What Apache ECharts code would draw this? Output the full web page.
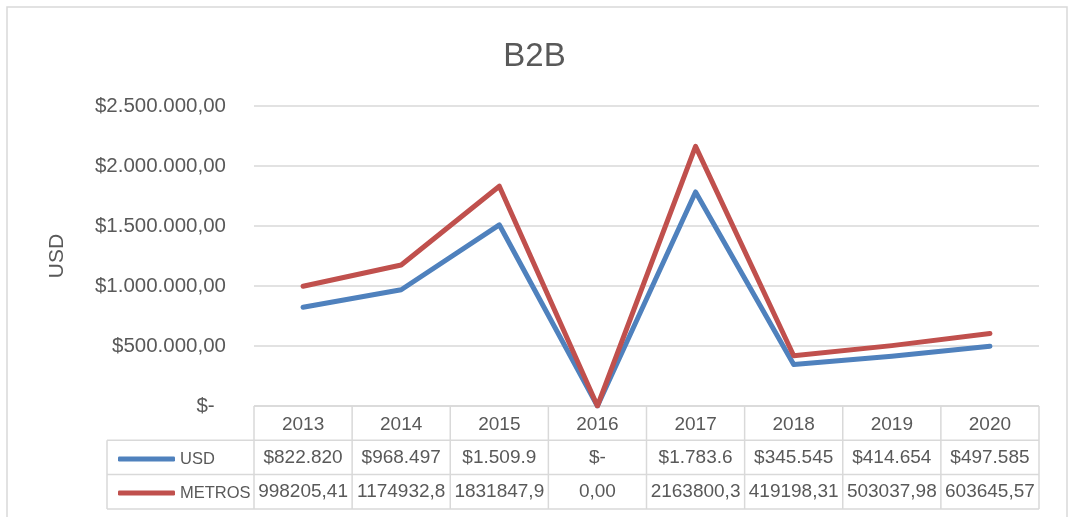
<!DOCTYPE html>
<html>
<head>
<meta charset="utf-8">
<script src="https://cdn.jsdelivr.net/npm/echarts@6/dist/echarts.min.js"></script>
<style>
  html, body { margin: 0; padding: 0; background: #fff; }
  #main { width: 1069px; height: 517px; }
</style>
</head>
<body>
<div id="main"></div>
<script>
// data
const years = ['2013', '2014', '2015', '2016', '2017', '2018', '2019', '2020'];
const usd = [822820, 968497, 1509900, 0, 1783600, 345545, 414654, 497585];
const metros = [998205.41, 1174932.8, 1831847.9, 0, 2163800.3, 419198.31, 503037.98, 603645.57];
// text as it shows in the data table cells (Excel cuts long numbers)
const usdCells = ['$822.820', '$968.497', '$1.509.9', '$-', '$1.783.6', '$345.545', '$414.654', '$497.585'];
const metrosCells = ['998205,41', '1174932,8', '1831847,9', '0,00', '2163800,3', '419198,31', '503037,98', '603645,57'];
const yTicks = [0, 500000, 1000000, 1500000, 2000000, 2500000];

const textColor = '#595959';
const lineGrey = '#D9D9D9';
const font = "'Liberation Sans', Arial, sans-serif";

function money(v) {
  if (v === 0) return '$-  ';
  return '$' + String(v).replace(/\B(?=(\d{3})+(?!\d))/g, '.') + ',00';
}

// one extra x axis per table row, the label is the cell text
function rowAxis(cells, margin) {
  return {
    type: 'category',
    data: years,
    position: 'bottom',
    axisLine: { show: false },
    axisTick: { show: false },
    axisLabel: {
      interval: 0,
      margin: margin,
      verticalAlign: 'middle',
      color: textColor,
      fontFamily: font,
      fontSize: 19,
      formatter: (v, i) => cells[i]
    }
  };
}

let chart = echarts.init(document.getElementById('main'));

let option = {
  animation: false,
  title: {
    text: 'B2B',
    left: 'center',
    top: 35,
    textStyle: { color: textColor, fontFamily: font, fontSize: 33, fontWeight: 'normal' }
  },
  legend: {
    data: ['USD', 'METROS'],
    orient: 'vertical',
    left: 113,
    top: 444,
    itemWidth: 57,
    itemHeight: 5,
    itemGap: 14,
    icon: 'roundRect',
    textStyle: { color: textColor, fontFamily: font, fontSize: 16.5, lineHeight: 20 }
  },
  grid: { left: 254, right: 30, top: 106, bottom: 111 },
  xAxis: [
    rowAxis(years, 19),
    rowAxis(usdCells, 52),
    rowAxis(metrosCells, 86)
  ],
  yAxis: {
    type: 'value',
    min: yTicks[0],
    max: yTicks[yTicks.length - 1],
    interval: yTicks[1] - yTicks[0],
    name: 'USD',
    nameLocation: 'middle',
    nameRotate: 90,
    nameGap: 186,
    nameTextStyle: { color: textColor, fontFamily: font, fontSize: 21 },
    axisLine: { show: false },
    axisTick: { show: false },
    axisLabel: { margin: 28, color: textColor, fontFamily: font, fontSize: 20.5, formatter: money },
    splitLine: { lineStyle: { color: lineGrey, width: 1.5 } }
  },
  series: [
    {
      name: 'USD',
      type: 'line',
      data: usd,
      symbol: 'none',
      color: '#4F81BD',
      lineStyle: { width: 5, cap: 'round', join: 'round' }
    },
    {
      name: 'METROS',
      type: 'line',
      data: metros,
      symbol: 'none',
      color: '#C0504D',
      lineStyle: { width: 5, cap: 'round', join: 'round' }
    }
  ]
};

chart.setOption(option);

// data table grid lines, placed from the category axis
let x0 = chart.convertToPixel({ xAxisIndex: 0 }, 0);
let band = chart.convertToPixel({ xAxisIndex: 0 }, 1) - x0;
let tableLeft = x0 - band / 2;
let tableRight = tableLeft + band * years.length;
let tableTop = chart.convertToPixel({ yAxisIndex: 0 }, 0);
let rowH = 34.3;
let keyLeft = 107;
let lines = [];
function seg(x1, y1, x2, y2) {
  lines.push({
    type: 'line',
    shape: { x1: x1, y1: y1, x2: x2, y2: y2 },
    style: { stroke: lineGrey, lineWidth: 1.5 },
    z: 1
  });
}
seg(tableLeft, tableTop, tableRight, tableTop);
for (let r = 1; r <= 3; r++) seg(keyLeft, tableTop + r * rowH, tableRight, tableTop + r * rowH);
for (let i = 0; i <= years.length; i++) {
  let x = tableLeft + i * band;
  seg(x, tableTop, x, tableTop + 3 * rowH);
}
seg(keyLeft, tableTop + rowH, keyLeft, tableTop + 3 * rowH);
lines.push({
  type: 'rect',
  shape: { x: 7, y: 7, width: 1060, height: 530 },
  style: { fill: 'none', stroke: lineGrey, lineWidth: 1.5 },
  z: 0
});

chart.setOption({ graphic: lines });
</script>
</body>
</html>
